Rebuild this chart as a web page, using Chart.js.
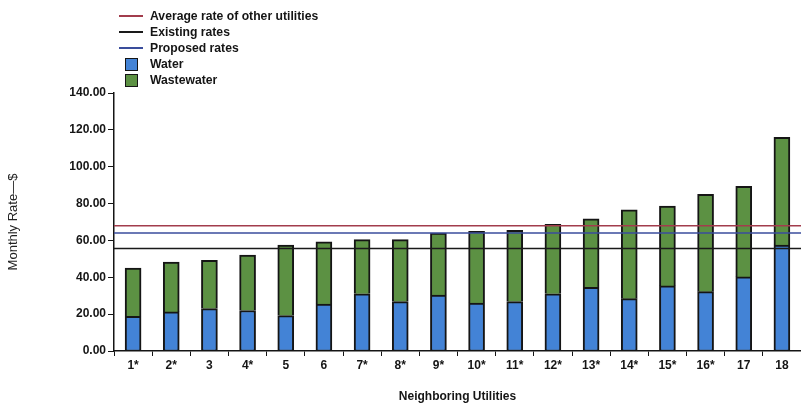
<!DOCTYPE html>
<html>
<head>
<meta charset="utf-8">
<script src="https://cdn.jsdelivr.net/npm/chart.js@4.4.1/dist/chart.umd.min.js"></script>
<style>
  html, body { margin: 0; padding: 0; background: #fff; }
  #wrap { position: relative; width: 801px; height: 403px; }
  #chart { position: absolute; left: 0; top: 0; }
  #legend {
    position: absolute; left: 119px; top: 8px;
    font: bold 12.2px "Liberation Sans", Arial, sans-serif; color: #151515;
  }
  #legend .row { height: 16px; display: flex; align-items: center; }
  #legend .mark { width: 24px; margin-right: 7px; display: flex; align-items: center; justify-content: center; }
  #legend .line { width: 24px; height: 2px; }
  #legend .box { width: 13px; height: 13px; box-sizing: border-box; border: 1px solid #151515; }
</style>
</head>
<body>
<div id="wrap">
  <canvas id="chart" width="801" height="403"></canvas>
  <div id="legend"></div>
</div>
<script>
// Neighboring utilities (asterisk as published)
const utilities = ['1*', '2*', '3', '4*', '5', '6', '7*', '8*', '9*', '10*', '11*', '12*', '13*', '14*', '15*', '16*', '17', '18'];

// Monthly water portion of the bill, $
const water = [18.8, 21.2, 23.0, 22.0, 19.2, 25.5, 31.0, 26.8, 30.3, 26.0, 26.8, 31.0, 34.6, 28.4, 35.3, 32.2, 40.2, 57.5];

// Monthly wastewater portion of the bill, $
const wastewater = [26.2, 27.1, 26.2, 30.0, 38.3, 33.8, 29.4, 33.6, 33.7, 39.0, 38.7, 37.8, 37.1, 48.2, 43.3, 52.8, 49.1, 58.5];

// Reference rates, $ per month
const averageOtherUtilities = 68.0;
const existingRate = 55.6;
const proposedRate = 64.0;

// Y axis range and step, $
const yMin = 0;
const yMax = 140;
const yStep = 20;

const FONT = '"Liberation Sans", Arial, sans-serif';
const INK = '#151515';

// A reference rate drawn across the full width of the utilities range
function rateLine(label, value, color, stack) {
  return {
    type: 'line',
    label: label,
    data: [{ x: 0, y: value }, { x: utilities.length, y: value }],
    xAxisID: 'xLine',
    stack: stack,
    borderColor: color,
    backgroundColor: color,
    borderWidth: 1.6,
    pointRadius: 0,
    fill: false,
    order: 0
  };
}

// One segment of the stacked monthly bill
function billBar(label, values, color, edges) {
  return {
    type: 'bar',
    label: label,
    data: values,
    stack: 'bill',
    grouped: false,
    backgroundColor: color,
    borderColor: INK,
    borderWidth: edges,
    borderSkipped: false,
    barThickness: 16,
    order: 1
  };
}

const datasets = [
  rateLine('Average rate of other utilities', averageOtherUtilities, '#a23c4c', 'avg'),
  rateLine('Existing rates', existingRate, '#1a1a1a', 'existing'),
  rateLine('Proposed rates', proposedRate, '#3a4d9c', 'proposed'),
  billBar('Water', water, '#4383d6', { top: 2, left: 2, right: 2, bottom: 1 }),
  billBar('Wastewater', wastewater, '#5c9143', { top: 2, left: 2, right: 2, bottom: 0 })
];

const chart = new Chart(document.getElementById('chart'), {
  data: { labels: utilities, datasets: datasets },
  options: {
    responsive: false,
    animation: false,
    layout: { padding: { left: 5, right: 0, top: 93, bottom: 0 } },
    plugins: { legend: { display: false }, tooltip: { enabled: false } },
    scales: {
      x: {
        type: 'category',
        stacked: true,
        offset: true,
        afterFit: s => { s.height = 52; },
        border: { display: true, color: INK, width: 1.5 },
        grid: { display: true, drawOnChartArea: false, offset: true, tickLength: 5, color: INK, lineWidth: 1 },
        ticks: { color: INK, padding: 2, font: { family: FONT, size: 12, weight: 'bold' } },
        title: {
          display: true, text: 'Neighboring Utilities', color: INK,
          padding: { top: 0, bottom: 0 },
          font: { family: FONT, size: 12, weight: 'bold', lineHeight: 1 }
        }
      },
      xLine: {
        type: 'linear',
        display: false,
        min: 0,
        max: utilities.length
      },
      y: {
        stacked: true,
        min: yMin,
        max: yMax,
        afterFit: s => { s.width = 109; },
        border: { display: true, color: INK, width: 1.5 },
        grid: { display: true, drawOnChartArea: false, tickLength: 6, color: INK, lineWidth: 1 },
        ticks: {
          stepSize: yStep, color: INK, padding: 2,
          font: { family: FONT, size: 12, weight: 'bold' },
          callback: v => Number(v).toFixed(2)
        },
        title: {
          display: true, text: 'Monthly Rate\u2014$', color: '#222',
          padding: { top: 1, bottom: 0 },
          font: { family: FONT, size: 13, weight: 'normal' }
        }
      }
    }
  }
});

// Legend listing every dataset in order, built from the chart itself
const legend = document.getElementById('legend');
chart.data.datasets.forEach(ds => {
  const row = document.createElement('div');
  row.className = 'row';
  const mark = document.createElement('span');
  mark.className = 'mark';
  const sw = document.createElement('span');
  if (ds.type === 'line') {
    sw.className = 'line';
    sw.style.background = ds.borderColor;
  } else {
    sw.className = 'box';
    sw.style.background = ds.backgroundColor;
  }
  mark.appendChild(sw);
  const txt = document.createElement('span');
  txt.textContent = ds.label;
  row.appendChild(mark);
  row.appendChild(txt);
  legend.appendChild(row);
});
</script>
</body>
</html>
